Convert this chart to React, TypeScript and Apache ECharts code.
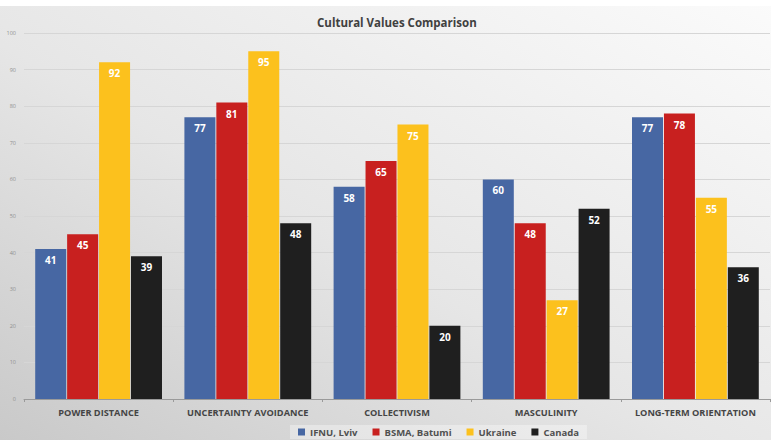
import React, { useEffect, useRef } from "react";
import * as echarts from "echarts";

const categories = ["POWER DISTANCE", "UNCERTAINTY AVOIDANCE", "COLLECTIVISM", "MASCULINITY", "LONG-TERM ORIENTATION"];
const seriesNames = ["IFNU, Lviv", "BSMA, Batumi", "Ukraine", "Canada"];
const ifnu = [41, 77, 58, 60, 77];
const bsma = [45, 81, 65, 48, 78];
const ukraine = [92, 95, 75, 27, 55];
const canada = [39, 48, 20, 52, 36];
const colors = ["#4767a3", "#c8201f", "#fcc11d", "#1f1f1f"];

export default function App() {
  const ref = useRef<HTMLDivElement>(null);
  useEffect(() => {
    if (!ref.current) return;
    const chart = echarts.init(ref.current, null, { renderer: "svg" });
    const data = [ifnu, bsma, ukraine, canada];
    chart.setOption({
      animation: false,
      backgroundColor: new echarts.graphic.LinearGradient(1, 0, 0, 1, [
        { offset: 0, color: "#fbfbfb" },
        { offset: 0.55, color: "#e6e6e6" },
        { offset: 1, color: "#c9c9c9" },
      ]),
      textStyle: { fontFamily: "Open Sans" },
      title: {
        text: "Cultural Values Comparison",
        left: 312,
        top: 11,
        textStyle: { fontSize: 11.5, fontWeight: "bold", color: "#404040", fontFamily: "Open Sans" },
      },
      graphic: [
        { type: "rect", shape: { x: 0, y: 0, width: 771, height: 6 }, style: { fill: "#ffffff" }, silent: true },
      ],
      legend: {
        bottom: 1,
        left: 290,
        itemWidth: 7,
        itemHeight: 7,
        itemGap: 15,
        icon: "rect",
        backgroundColor: "rgba(255,255,255,0.35)",
        padding: [2, 8],
        textStyle: { fontSize: 9.5, fontWeight: "bold", color: "#505050", fontFamily: "Open Sans" },
        data: seriesNames,
      },
      grid: { left: 24, right: 1, top: 33, bottom: 41, containLabel: false },
      xAxis: {
        type: "category",
        data: categories,
        axisLine: { lineStyle: { color: "#9a9a9a" } },
        axisTick: { show: true, length: 3, lineStyle: { color: "#9a9a9a" } },
        axisLabel: { interval: 0, fontSize: 9.2, fontWeight: "bold", color: "#454545", margin: 9, fontFamily: "Open Sans" },
      },
      yAxis: {
        type: "value",
        min: 0,
        max: 100,
        interval: 10,
        axisLine: { show: false },
        axisTick: { show: false },
        axisLabel: { fontSize: 5.5, color: "#909090", margin: 8 },
        splitLine: { lineStyle: { color: "#d6d6d6", width: 1 } },
      },
      series: seriesNames.map((name, i) => ({
        name,
        type: "bar",
        data: data[i],
        barWidth: 31,
        barGap: "3%",
        itemStyle: { color: colors[i] },
        label: {
          show: true,
          position: "insideTop",
          distance: 6,
          color: "#ffffff",
          fontSize: 10,
          fontWeight: "bold",
          fontFamily: "Open Sans",
        },
      })),
    });
    return () => chart.dispose();
  }, []);
  return <div ref={ref} style={{ position: "fixed", left: 0, top: 0, width: 771, height: 440 }} />;
}
